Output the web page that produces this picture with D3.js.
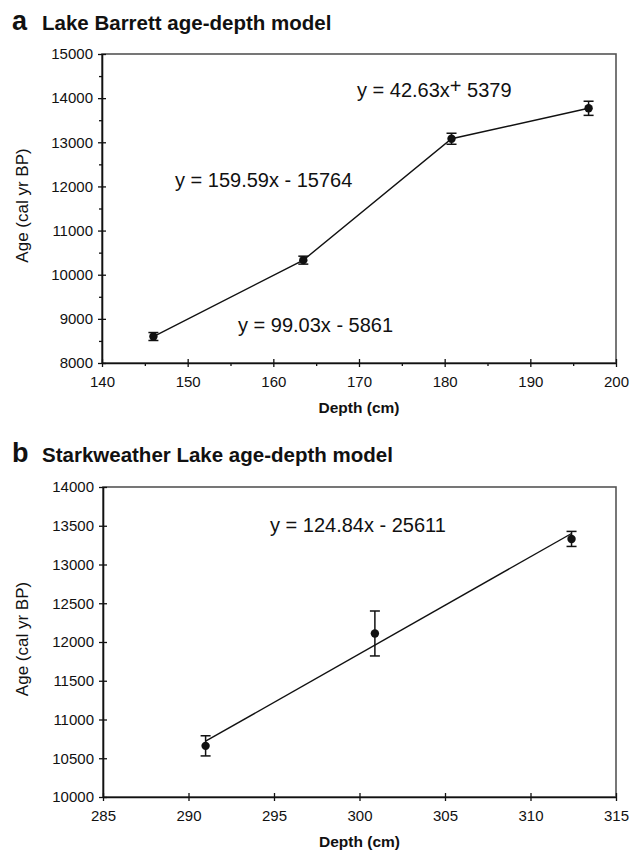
<!DOCTYPE html>
<html>
<head>
<meta charset="utf-8">
<script src="https://cdn.jsdelivr.net/npm/d3@7/dist/d3.min.js"></script>
<style>
  body { margin: 0; background: #fff; }
  text { font-family: "Liberation Sans", Arial, sans-serif; fill: #111; }
</style>
</head>
<body>
<svg id="chart" width="643" height="853"></svg>
<script>
// panel a - Lake Barrett
var depthA = [146, 163.5, 180.8, 196.8];
var ageA = [8600, 10330, 13080, 13770];
var errA = [90, 90, 125, 160];
var eqA = ["y = 99.03x - 5861", "y = 159.59x - 15764", "y = 42.63x"];
var xTicksA = [140, 150, 160, 170, 180, 190, 200];
var xMinorA = [145, 155, 165, 175, 185, 195];
var yTicksA = [8000, 9000, 10000, 11000, 12000, 13000, 14000, 15000];
var yMinorA = [8500, 9500, 10500, 11500, 12500, 13500, 14500];

// panel b - Starkweather Lake
var depthB = [291, 300.9, 312.4];
var ageB = [10660, 12110, 13330];
var errB = [130, 290, 97];
var fitDepthB = [291, 312.4];
var fitAgeB = [10720, 13400];
var eqB = "y = 124.84x - 25611";
var xTicksB = [285, 290, 295, 300, 305, 310, 315];
var yTicksB = [10000, 10500, 11000, 11500, 12000, 12500, 13000, 13500, 14000];

var svg = d3.select("#chart");

function panel(letter, title, titleY, xDom, yDom, box, xTicks, xMinor, yTicks, yMinor) {
    var x = d3.scaleLinear().domain(xDom).range([box.left, box.right]);
    var y = d3.scaleLinear().domain(yDom).range([box.bottom, box.top]);
    var g = svg.append("g");

    g.append("text")
        .attr("x", 12).attr("y", titleY)
        .text(letter)
        .attr("font-size", "27px")
        .attr("font-weight", "bold");
    g.append("text")
        .attr("x", 42).attr("y", titleY)
        .text(title)
        .attr("font-size", "20.5px")
        .attr("font-weight", "bold");

    // frame
    g.append("rect")
        .attr("x", box.left).attr("y", box.top)
        .attr("width", box.right - box.left)
        .attr("height", box.bottom - box.top)
        .attr("fill", "none")
        .attr("stroke", "#555")
        .attr("stroke-width", 1.6);

    // minor ticks first
    if (xMinor) {
        g.append("g")
            .attr("transform", "translate(0," + box.bottom + ")")
            .call(d3.axisBottom(x).tickValues(xMinor).tickSize(3).tickFormat(""))
            .call(function(s) { s.select(".domain").remove(); });
    }
    if (yMinor) {
        g.append("g")
            .attr("transform", "translate(" + box.left + ",0)")
            .call(d3.axisLeft(y).tickValues(yMinor).tickSize(3).tickFormat(""))
            .call(function(s) { s.select(".domain").remove(); });
    }

    var xa = g.append("g")
        .attr("transform", "translate(0," + box.bottom + ")")
        .call(d3.axisBottom(x).tickValues(xTicks).tickFormat(d3.format("d"))
            .tickSize(4).tickSizeOuter(0).tickPadding(9));
    xa.selectAll(".tick line").attr("y1", -4);
    xa.selectAll("text").attr("font-size", "15px").attr("fill", "#111")
        .style("font-family", "'Liberation Sans', Arial, sans-serif");

    var ya = g.append("g")
        .attr("transform", "translate(" + box.left + ",0)")
        .call(d3.axisLeft(y).tickValues(yTicks).tickFormat(d3.format("d"))
            .tickSize(4).tickSizeOuter(0).tickPadding(5));
    ya.selectAll(".tick line").attr("x1", 4);
    ya.selectAll("text").attr("font-size", "15px").attr("fill", "#111")
        .style("font-family", "'Liberation Sans', Arial, sans-serif");

    g.selectAll(".domain").attr("stroke", "#111").attr("stroke-width", 1.6);
    g.selectAll(".tick line").attr("stroke", "#111").attr("stroke-width", 1.3);

    g.append("text")
        .attr("x", (box.left + box.right) / 2)
        .attr("y", box.bottom + 50)
        .attr("text-anchor", "middle")
        .attr("font-size", "15.5px")
        .attr("font-weight", "bold")
        .text("Depth (cm)");

    g.append("text")
        .attr("transform", "translate(28," + ((box.top + box.bottom) / 2 - 3) + ") rotate(-90)")
        .attr("text-anchor", "middle")
        .attr("font-size", "17px")
        .text("Age (cal yr BP)");

    return { g: g, x: x, y: y };
}

function points(p, xs, ys, es) {
    var idx = d3.range(xs.length);
    p.g.selectAll(null).data(idx).enter().append("line")
        .attr("x1", function(i) { return p.x(xs[i]); })
        .attr("x2", function(i) { return p.x(xs[i]); })
        .attr("y1", function(i) { return p.y(ys[i] - es[i]); })
        .attr("y2", function(i) { return p.y(ys[i] + es[i]); })
        .attr("stroke", "#111").attr("stroke-width", 1.5);
    [-1, 1].forEach(function(sgn) {
        p.g.selectAll(null).data(idx).enter().append("line")
            .attr("x1", function(i) { return p.x(xs[i]) - 5; })
            .attr("x2", function(i) { return p.x(xs[i]) + 5; })
            .attr("y1", function(i) { return p.y(ys[i] + sgn * es[i]); })
            .attr("y2", function(i) { return p.y(ys[i] + sgn * es[i]); })
            .attr("stroke", "#111").attr("stroke-width", 1.5);
    });
    p.g.selectAll(null).data(idx).enter().append("circle")
        .attr("cx", function(i) { return p.x(xs[i]); })
        .attr("cy", function(i) { return p.y(ys[i]); })
        .attr("r", 4.2)
        .attr("fill", "#111");
}

// ---- panel a
var pa = panel("a", "Lake Barrett age-depth model", 30, [140, 200], [8000, 15000],
    { left: 102, right: 616, top: 54, bottom: 363 }, xTicksA, xMinorA, yTicksA, yMinorA);

pa.g.append("path")
    .datum(d3.range(depthA.length))
    .attr("d", d3.line().x(function(i) { return pa.x(depthA[i]); }).y(function(i) { return pa.y(ageA[i]); }))
    .attr("fill", "none").attr("stroke", "#111").attr("stroke-width", 1.4);
points(pa, depthA, ageA, errA);

pa.g.append("text").attr("x", 238).attr("y", 332).attr("font-size", "20px").text(eqA[0]);
pa.g.append("text").attr("x", 175).attr("y", 187).attr("font-size", "20px").text(eqA[1]);
var t3 = pa.g.append("text").attr("x", 357).attr("y", 97).attr("font-size", "20px").text(eqA[2]);
t3.append("tspan").attr("dy", -4).text("+");
t3.append("tspan").attr("dy", 4).text(" 5379");

// ---- panel b
var pb = panel("b", "Starkweather Lake age-depth model", 462, [285, 315], [10000, 14000],
    { left: 103, right: 616, top: 487, bottom: 797 }, xTicksB, null, yTicksB, null);

pb.g.append("line")
    .attr("x1", pb.x(fitDepthB[0])).attr("y1", pb.y(fitAgeB[0]))
    .attr("x2", pb.x(fitDepthB[1])).attr("y2", pb.y(fitAgeB[1]))
    .attr("stroke", "#111").attr("stroke-width", 1.4);
points(pb, depthB, ageB, errB);

pb.g.append("text").attr("x", 270).attr("y", 532).attr("font-size", "20px").text(eqB);
</script>
</body>
</html>
